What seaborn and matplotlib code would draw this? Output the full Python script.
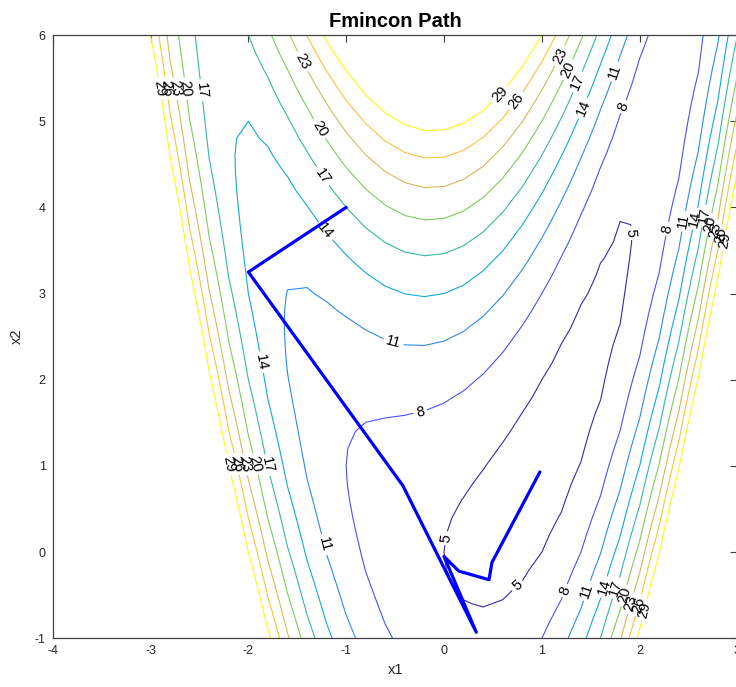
import numpy as np
import pandas as pd
import matplotlib
matplotlib.use("Agg")
import matplotlib.pyplot as plt
import seaborn as sns

# ---------------- data ----------------
levels = [5, 8, 11, 14, 17, 20, 23, 26, 29]
level_colors = ["#3e26a8", "#4754f2", "#2b8cee", "#12a8d8", "#35b8a0",
                "#80cc59", "#d1bb59", "#fbc33a", "#f9fb14"]

# fmincon iterates (x1, x2)
path_x1 = [-1.0, -2.0, -0.42, 0.33, 0.0, 0.15, 0.46, 0.49, 0.98]
path_x2 = [4.0, 3.25, 0.77, -0.93, -0.05, -0.22, -0.32, -0.12, 0.93]

xticks = [-4, -3, -2, -1, 0, 1, 2, 3]
yticks = [-1, 0, 1, 2, 3, 4, 5, 6]

# evaluation grid of the objective (coarse mesh, step 0.2)
grid_x1 = np.linspace(-4, 3, 36)
grid_x2 = np.linspace(-1, 6, 36)


def objective(x1, x2):
    return (x2 - x1 ** 2) ** 2 + (1 - x1) ** 2 + 4


# label anchor points for the inline contour labels
label_pos = {
    5: [(1.88, 3.70), (0.03, 0.16), (0.75, -0.39)],
    8: [(-0.24, 1.61), (1.85, 5.16), (2.29, 3.75), (1.24, -0.45)],
    11: [(-0.52, 2.42), (-1.25, 0.08), (1.76, 5.57), (2.49, 3.83), (1.49, -0.46)],
    14: [(-1.24, 3.70), (-1.88, 2.20), (1.42, 5.15), (2.56, 3.87), (1.62, -0.40)],
    17: [(-1.27, 4.34), (-2.47, 5.36), (-1.80, 1.01), (1.37, 5.45), (2.63, 3.91), (1.71, -0.40)],
    20: [(-1.09, 5.04), (-2.64, 5.38), (-1.97, 1.01), (1.28, 5.59), (2.70, 3.81), (1.83, -0.50)],
    23: [(-1.45, 5.69), (-2.73, 5.38), (-2.06, 1.01), (1.20, 5.75), (2.75, 3.74), (1.87, -0.58)],
    26: [(-2.84, 5.38), (-2.17, 1.01), (0.72, 5.25), (2.78, 3.68), (1.97, -0.61)],
    29: [(-2.90, 5.38), (-2.24, 1.01), (0.54, 5.34), (2.83, 3.62), (2.05, -0.67)],
}

# ---------------- plot ----------------
sns.set_theme(style="white")
plt.rcParams["font.family"] = ["Liberation Sans", "DejaVu Sans"]

X1, X2 = np.meshgrid(grid_x1, grid_x2)
Z = objective(X1, X2)

fig = plt.figure(figsize=(7.36, 6.87), dpi=100)
W, H = 736.0, 687.0
ax = fig.add_axes([52.7 / W, 1 - 638.3 / H, (737.5 - 52.7) / W, (638.3 - 35.0) / H])

for lev, col in zip(levels, level_colors):
    cs = ax.contour(X1, X2, Z, levels=[lev], colors=[col], linewidths=0.8)
    ax.clabel(cs, manual=label_pos[lev], inline=True, inline_spacing=3,
              fontsize=10.5, colors="black", fmt="%d")

df = pd.DataFrame({"x1": path_x1, "x2": path_x2})
sns.lineplot(data=df, x="x1", y="x2", sort=False, estimator=None,
             color="#0000ff", linewidth=2.3, ax=ax)

ax.set_xlim(-4, 3)
ax.set_ylim(-1, 6)
ax.set_xticks(xticks)
ax.set_yticks(yticks)
ax.set_xticklabels([str(t) for t in xticks])
ax.set_yticklabels([str(t) for t in yticks])
ax.tick_params(direction="in", top=True, right=True, length=5, width=0.8,
               color="#404040", labelcolor="#262626", labelsize=9, pad=5)
for sp in ax.spines.values():
    sp.set_color("#404040")
    sp.set_linewidth(0.9)
    sp.set_visible(True)

ax.set_xlabel("x1", fontsize=10.5, color="#262626", labelpad=4)
ax.set_ylabel("x2", fontsize=10.5, color="#262626", labelpad=8)
ax.set_title("Fmincon Path", fontsize=14.5, fontweight="bold", color="black", pad=6)

fig.savefig("out.png", dpi=100)
